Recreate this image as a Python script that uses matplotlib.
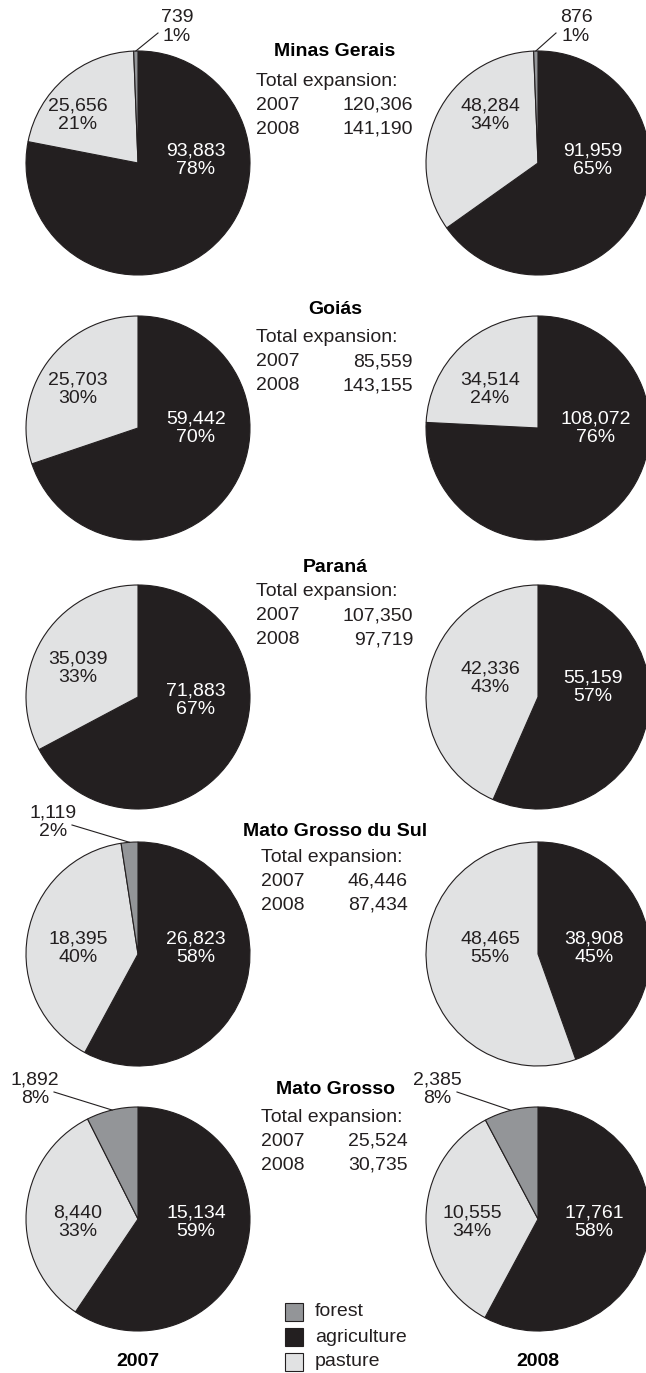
import numpy as np
import matplotlib
matplotlib.use("Agg")
import matplotlib.pyplot as plt
from matplotlib.patches import Rectangle

plt.rcParams['font.family'] = ['Liberation Sans', 'DejaVu Sans']

W, H = 646, 1373

states = ["Minas Gerais", "Goiás", "Paraná", "Mato Grosso du Sul", "Mato Grosso"]
years = ["2007", "2008"]
categories = ["forest", "agriculture", "pasture"]

# hectares of new sugarcane by previous land use
forest_2007 = [739, 0, 0, 1119, 1892]
agri_2007 = [93883, 59442, 71883, 26823, 15134]
pasture_2007 = [25656, 25703, 35039, 18395, 8440]
forest_2008 = [876, 0, 0, 0, 2385]
agri_2008 = [91959, 108072, 55159, 38908, 17761]
pasture_2008 = [48284, 34514, 42336, 48465, 10555]

pct_forest_2007 = [1, 0, 0, 2, 8]
pct_agri_2007 = [78, 70, 67, 58, 59]
pct_pasture_2007 = [21, 30, 33, 40, 33]
pct_forest_2008 = [1, 0, 0, 0, 8]
pct_agri_2008 = [65, 76, 57, 45, 58]
pct_pasture_2008 = [34, 24, 43, 55, 34]

total_2007 = [120306, 85559, 107350, 46446, 25524]
total_2008 = [141190, 143155, 97719, 87434, 30735]

colors = {"forest": "#939598", "agriculture": "#231f20", "pasture": "#e1e2e3"}
ink = "#231f20"
fs = 14

# layout in pixels (y measured from the top)
R = 112
pie_cx = [138, 538]
pie_cy = [163, 428, 697, 954, 1219]
title_y = [52, 310, 567, 832, 1090]
block_x = [256, 256, 256, 261, 261]
value_x = [413, 413, 413, 408, 408]
block_y = [81, 338, 592, 857, 1117]

# label offsets from the pie centre (dx, dy) in pixels
agri_off = [[(58, -3), (55, -3)], [(58, 0), (58, 0)], [(58, 3), (55, -10)],
            [(58, -6), (56, -6)], [(58, 3), (56, 3)]]
past_off = [[(-60, -48), (-48, -48)], [(-60, -39), (-48, -39)], [(-60, -29), (-48, -19)],
            [(-60, -6), (-48, -6)], [(-60, 3), (-66, 3)]]
forest_off = {(0, 0): ((39, -136), (20, -130)),
              (0, 1): ((38, -136), (18, -130)),
              (3, 0): ((-85, -132), (-66, -129)),
              (4, 0): ((-103, -130), (-84, -127)),
              (4, 1): ((-101, -130), (-81, -127))}


def fx(x):
    return x / W


def fy(y):
    return 1 - y / H


fig = plt.figure(figsize=(W / 100, H / 100), dpi=100)

data = {
    0: (forest_2007, agri_2007, pasture_2007, pct_forest_2007, pct_agri_2007, pct_pasture_2007),
    1: (forest_2008, agri_2008, pasture_2008, pct_forest_2008, pct_agri_2008, pct_pasture_2008),
}

for i, state in enumerate(states):
    cy = pie_cy[i]
    for j in range(2):
        forest, agri, past, pf, pa, pp = data[j]
        cx = pie_cx[j]
        ax = fig.add_axes([fx(cx - R), fy(cy + R), 2 * R / W, 2 * R / H])
        vals = [agri[i], past[i], forest[i]]
        cols = [colors["agriculture"], colors["pasture"], colors["forest"]]
        keep = [k for k in range(3) if vals[k] > 0]
        ax.pie([vals[k] for k in keep], colors=[cols[k] for k in keep],
               startangle=90, counterclock=False, radius=1,
               wedgeprops=dict(edgecolor=ink, linewidth=0.8))
        ax.set_xlim(-1, 1)
        ax.set_ylim(-1, 1)
        ax.set_aspect('equal')
        ax.axis('off')

        dx, dy = agri_off[i][j]
        ax.text(dx / R, -dy / R, f"{agri[i]:,}\n{pa[i]}%", ha='center', va='center',
                color='white', fontsize=fs, linespacing=1.1)
        dx, dy = past_off[i][j]
        ax.text(dx / R, -dy / R, f"{past[i]:,}\n{pp[i]}%", ha='center', va='center',
                color=ink, fontsize=fs, linespacing=1.1)

        if forest[i] > 0:
            (lx, ly), (ex, ey) = forest_off[(i, j)]
            ax.text(lx / R, -ly / R, f"{forest[i]:,}\n{pf[i]}%", ha='center', va='center',
                    color=ink, fontsize=fs, linespacing=1.1)
            s = sum(vals)
            theta = np.deg2rad(90 + 180 * forest[i] / s)
            ax.plot([np.cos(theta), ex / R], [np.sin(theta), -ey / R],
                    color=ink, lw=0.8, clip_on=False)

    # state name and totals
    fig.text(fx(335), fy(title_y[i]), state, ha='center', va='center',
             fontsize=fs, fontweight='bold', color='black')
    fig.text(fx(block_x[i]), fy(block_y[i]), "Total expansion:", ha='left', va='center',
             fontsize=fs, color=ink)
    for k, (yr, tot) in enumerate([("2007", total_2007[i]), ("2008", total_2008[i])]):
        yy = block_y[i] + 24 * (k + 1)
        fig.text(fx(block_x[i]), fy(yy), yr, ha='left', va='center', fontsize=fs, color=ink)
        fig.text(fx(value_x[i]), fy(yy), f"{tot:,}", ha='right', va='center', fontsize=fs, color=ink)

# legend
for k, cat in enumerate(categories):
    yy = 1312 + 25 * k
    fig.add_artist(Rectangle((fx(285), fy(yy + 9)), 18 / W, 18 / H,
                             transform=fig.transFigure, facecolor=colors[cat],
                             edgecolor=ink, linewidth=0.8))
    fig.text(fx(315), fy(yy), cat, ha='left', va='center', fontsize=fs, color=ink)

for j, yr in enumerate(years):
    fig.text(fx(pie_cx[j]), fy(1362), yr, ha='center', va='center',
             fontsize=fs, fontweight='bold', color='black')

fig.savefig("out.png", dpi=100)
